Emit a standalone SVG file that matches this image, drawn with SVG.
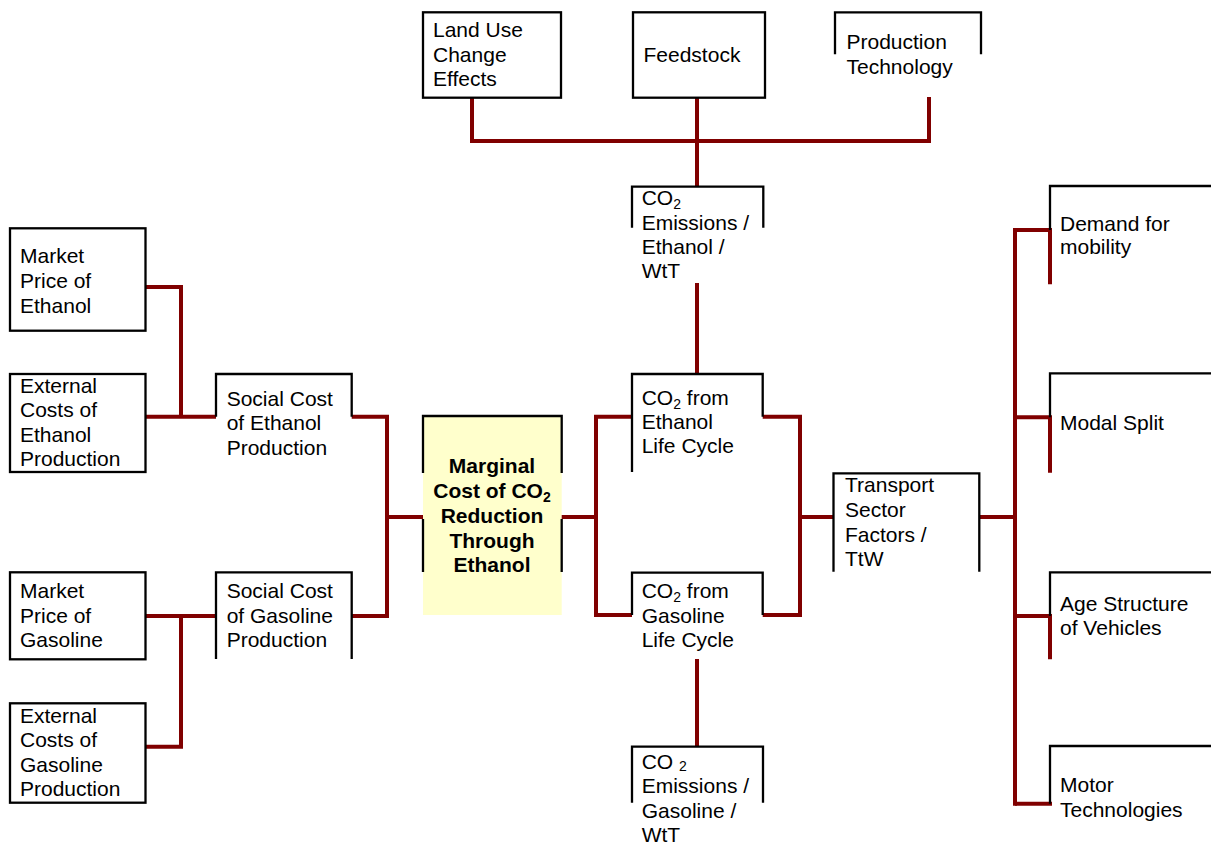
<svg xmlns="http://www.w3.org/2000/svg" width="1211" height="843" viewBox="0 0 1211 843">
<style>
.b{fill:none;stroke:#000;stroke-width:2.3}
.c{fill:none;stroke:#800000;stroke-width:4;stroke-linecap:butt;stroke-linejoin:miter}
text{font-family:"Liberation Sans",Arial,sans-serif;font-size:21px;fill:#000}
.bold{font-weight:bold;text-anchor:middle}
.sub{font-size:14px}
</style>
<rect width="1211" height="843" fill="#fff"/>
<g id="central">
<rect x="423" y="416" width="138.7" height="199" fill="#FFFFCC"/>
<path class="b" d="M423,473 V416 H561.7 V473 M423,519 V572 M561.7,519 V572"/>
<text class="bold"><tspan x="492" y="473.3">Marginal</tspan><tspan x="492" y="498.3">Cost of CO<tspan class="sub" dy="4">2</tspan></tspan><tspan x="492" y="523.3">Reduction</tspan><tspan x="492" y="548.3">Through</tspan><tspan x="492" y="572.3">Ethanol</tspan></text>
</g>
<g id="connectors">
<path class="c" d="M472,97.7 V141 H929 V97"/>
<path class="c" d="M697,97.7 V186.7"/>
<path class="c" d="M697,283 V374"/>
<path class="c" d="M145.5,287 H181 V416.7"/>
<path class="c" d="M145.5,416.7 H216"/>
<path class="c" d="M351.7,416.7 H387 V616 H351.7"/>
<path class="c" d="M387,517 H423"/>
<path class="c" d="M145.5,616 H216"/>
<path class="c" d="M181,616 V746.7 H145.5"/>
<path class="c" d="M561.7,517 H596"/>
<path class="c" d="M632,416.7 H596 V615 H632"/>
<path class="c" d="M762.7,416.7 H800 V615 H762.7"/>
<path class="c" d="M697,659 V746.7"/>
<path class="c" d="M800,517 H833.5"/>
<path class="c" d="M979.3,517 H1015"/>
<path class="c" d="M1015,228 V805.7"/>
<path class="c" d="M1015,230 H1050 V284.3"/>
<path class="c" d="M1015,417.3 H1050 V472.7"/>
<path class="c" d="M1015,616 H1050 V659.3"/>
<path class="c" d="M1015,803.7 H1052"/>
</g>
<g id="land_use">
<rect class="b" x="423" y="12.3" width="138" height="85.4"/>
<text><tspan x="433" y="36.7">Land Use</tspan><tspan x="433" y="61.7">Change</tspan><tspan x="433" y="86">Effects</tspan></text>
</g>
<g id="feedstock">
<rect class="b" x="633" y="12.3" width="132" height="85.4"/>
<text x="643.5" y="61.7">Feedstock</text>
</g>
<g id="production_technology">
<path class="b" d="M835,54.3 V12.3 H981 V54.3"/>
<text><tspan x="846.5" y="49.3">Production</tspan><tspan x="846.5" y="74">Technology</tspan></text>
</g>
<g id="co2_emissions_ethanol">
<path class="b" d="M632,227.7 V186.7 H763.3 V227.7"/>
<text><tspan x="641.7" y="205">CO<tspan class="sub" dy="4">2</tspan></tspan><tspan x="641.7" y="230">Emissions /</tspan><tspan x="641.7" y="254.3">Ethanol /</tspan><tspan x="641.7" y="278.3">WtT</tspan></text>
</g>
<g id="market_price_ethanol">
<rect class="b" x="10" y="228.3" width="135.5" height="102.4"/>
<text><tspan x="20" y="263.3">Market</tspan><tspan x="20" y="288.3">Price of</tspan><tspan x="20" y="312.7">Ethanol</tspan></text>
</g>
<g id="external_costs_ethanol">
<rect class="b" x="10" y="374" width="135.5" height="98"/>
<text><tspan x="20" y="393.3">External</tspan><tspan x="20" y="417.3">Costs of</tspan><tspan x="20" y="441.7">Ethanol</tspan><tspan x="20" y="466">Production</tspan></text>
</g>
<g id="social_cost_ethanol">
<path class="b" d="M216,416.7 V374 H351.7 V416.7"/>
<text><tspan x="226.7" y="405.7">Social Cost</tspan><tspan x="226.7" y="430">of Ethanol</tspan><tspan x="226.7" y="455">Production</tspan></text>
</g>
<g id="social_cost_gasoline">
<path class="b" d="M216,659 V572.3 H351.7 V659"/>
<text><tspan x="226.7" y="598.3">Social Cost</tspan><tspan x="226.7" y="623.3">of Gasoline</tspan><tspan x="226.7" y="647.3">Production</tspan></text>
</g>
<g id="market_price_gasoline">
<rect class="b" x="10" y="572.3" width="135.5" height="87"/>
<text><tspan x="20" y="598.3">Market</tspan><tspan x="20" y="623.3">Price of</tspan><tspan x="20" y="647.3">Gasoline</tspan></text>
</g>
<g id="external_costs_gasoline">
<rect class="b" x="10" y="703.3" width="135.5" height="99.4"/>
<text><tspan x="20" y="722.7">External</tspan><tspan x="20" y="747.3">Costs of</tspan><tspan x="20" y="771.7">Gasoline</tspan><tspan x="20" y="796">Production</tspan></text>
</g>
<g id="co2_ethanol_life_cycle">
<path class="b" d="M632,472 V374 H762.7 V416.7"/>
<text><tspan x="641.7" y="405">CO<tspan class="sub" dy="4">2</tspan><tspan dy="-4"> from</tspan></tspan><tspan x="641.7" y="429.3">Ethanol</tspan><tspan x="641.7" y="453.3">Life Cycle</tspan></text>
</g>
<g id="co2_gasoline_life_cycle">
<path class="b" d="M632,615 V572.7 H762.7 V615"/>
<text><tspan x="641.7" y="598.3">CO<tspan class="sub" dy="4">2</tspan><tspan dy="-4"> from</tspan></tspan><tspan x="641.7" y="623.3">Gasoline</tspan><tspan x="641.7" y="647.3">Life Cycle</tspan></text>
</g>
<g id="co2_emissions_gasoline">
<path class="b" d="M632,802.7 V746.7 H763 V802.7"/>
<text><tspan x="641.7" y="769.3">CO <tspan class="sub" dy="2">2</tspan></tspan><tspan x="641.7" y="793.3">Emissions /</tspan><tspan x="641.7" y="818.3">Gasoline /</tspan><tspan x="641.7" y="841.7">WtT</tspan></text>
</g>
<g id="transport_sector">
<path class="b" d="M833.5,571.7 V473.3 H979.3 V571.7"/>
<text><tspan x="845" y="492.3">Transport</tspan><tspan x="845" y="517.3">Sector</tspan><tspan x="845" y="541.7">Factors /</tspan><tspan x="845" y="566">TtW</tspan></text>
</g>
<g id="demand_mobility">
<path class="b" d="M1050,230 V186 H1215"/>
<text><tspan x="1060" y="230.7">Demand for</tspan><tspan x="1060" y="254">mobility</tspan></text>
</g>
<g id="modal_split">
<path class="b" d="M1050,417.3 V373.3 H1215"/>
<text x="1060" y="430">Modal Split</text>
</g>
<g id="age_structure">
<path class="b" d="M1050,616 V572.3 H1215"/>
<text><tspan x="1060" y="610.7">Age Structure</tspan><tspan x="1060" y="635">of Vehicles</tspan></text>
</g>
<g id="motor_technologies">
<path class="b" d="M1050,803.7 V746 H1215"/>
<text><tspan x="1060" y="791.7">Motor</tspan><tspan x="1060" y="816.7">Technologies</tspan></text>
</g>
</svg>
